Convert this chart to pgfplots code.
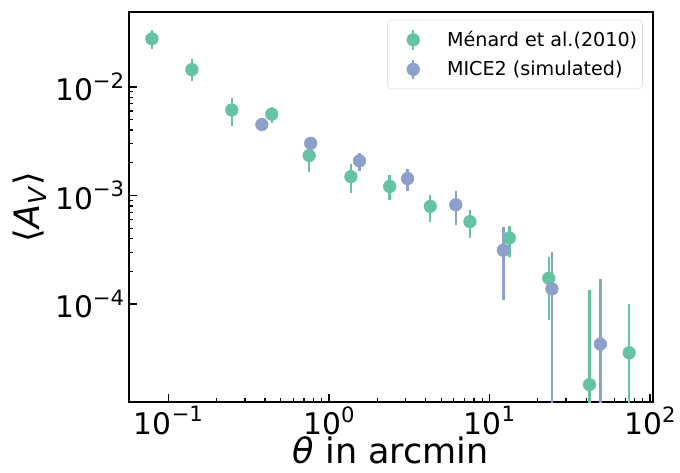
\documentclass[border=0pt]{standalone}
\usepackage{fontspec}
\setmainfont{DejaVu Sans}
\usepackage{pgfplots}
\pgfplotsset{compat=1.18}
\usetikzlibrary{calc}
\definecolor{menard}{HTML}{66C2A5}
\definecolor{mice}{HTML}{8DA0CB}
\newcommand{\pw}[1]{10\raisebox{0.42em}{\fontsize{16}{16}\selectfont #1}}

\begin{document}
\begin{tikzpicture}
\begin{axis}[
  xmode=log, ymode=log,
  scale only axis,
  width=396.75pt, height=295.5pt,
  xmin=0.0566, xmax=104,
  ymin=1.25e-5, ymax=0.049,
  axis line style={line width=1.5pt},
  tick align=inside,
  xtick pos=lower, ytick pos=left,
  major tick length=6.5pt, minor tick length=3.5pt,
  every major tick/.style={black, line width=1.4pt},
  every minor tick/.style={black, line width=0.9pt},
  xtick={0.1,1,10,100},
  xticklabels={\pw{−1},\pw{0},\pw{1},\pw{2}},
  ytick={1e-4,1e-3,1e-2},
  yticklabels={\pw{−4},\pw{−3},\pw{−2}},
  tick label style={font=\fontsize{22.5}{26}\selectfont},
  xticklabel style={yshift=-1pt, inner ysep=2pt},
  xlabel={\textit{θ} in arcmin},
  ylabel={⟨\textit{A}\textsubscript{\textit{V}}⟩},
  label style={font=\fontsize{26.5}{30}\selectfont},
  xlabel style={inner sep=0pt, yshift=1pt},
  legend style={at={(0.981,0.98)}, anchor=north east, draw=black!15,
    rounded corners=3pt, font=\fontsize{14.5}{17}\selectfont,
    row sep=5.5pt, inner xsep=2pt, inner ysep=6.5pt},
  legend cell align=left,
  legend image code/.code={
    \path[draw=none, fill=none] (0cm,-0.1cm) rectangle (1.45cm,0.1cm);
    \draw[line width=1.8pt] (0.62cm,-0.26cm) -- (0.62cm,0.26cm);
    \fill (0.62cm,0cm) circle (4.8pt);
  },
  every axis plot/.append style={
    only marks, mark=*, mark size=4.8pt,
    /pgfplots/error bars/y dir=both,
    /pgfplots/error bars/y explicit,
    /pgfplots/error bars/error mark=none,
    /pgfplots/error bars/error bar style={line width=1.8pt},
  },
]
\addplot[color=menard, mark options={draw=menard, fill=menard}]
  table[x=x, y=y, y error plus=ep, y error minus=em] {
  x       y          ep          em
  0.0789  0.0277     0.0059      0.0053
  0.140   0.0144     0.0035      0.00305
  0.248   0.00612    0.00171     0.00172
  0.440   0.0056     0.00089     0.00093
  0.753   0.00233    0.00067     0.0007
  1.37    0.00149    0.00044     0.00043
  2.39    0.00121    0.00033     0.0003
  4.28    0.000794   0.000216    0.000227
  7.56    0.000574   0.000166    0.000167
  13.3    0.000406   0.000114    0.000134
  23.4    0.000173   0.000099    0.000102
  42.0    0.0000181  0.000118    0.0000180
  74.2    0.0000356  0.0000649   0.0000355
  };
\addlegendentry{Ménard et al.(2010)}
\addplot[color=mice, mark options={draw=mice, fill=mice}]
  table[x=x, y=y, y error plus=ep, y error minus=em] {
  x       y          ep          em
  0.382   0.0045     0.0003      0.0003
  0.77    0.00302    0.0003      0.0003
  1.55    0.00208    0.0004      0.00039
  3.09    0.00143    0.00034     0.00034
  6.17    0.00082    0.00028     0.00028
  12.2    0.000313   0.000201    0.000205
  24.5    0.000138   0.000164    0.0001379
  49.1    0.0000428  0.000127    0.0000427
  };
\addlegendentry{MICE2 (simulated)}
\end{axis}
\path ($(current axis.south west)+(-97.5pt,-53.25pt)$) rectangle ($(current axis.north east)+(15.75pt,9pt)$);
\end{tikzpicture}
\end{document}
